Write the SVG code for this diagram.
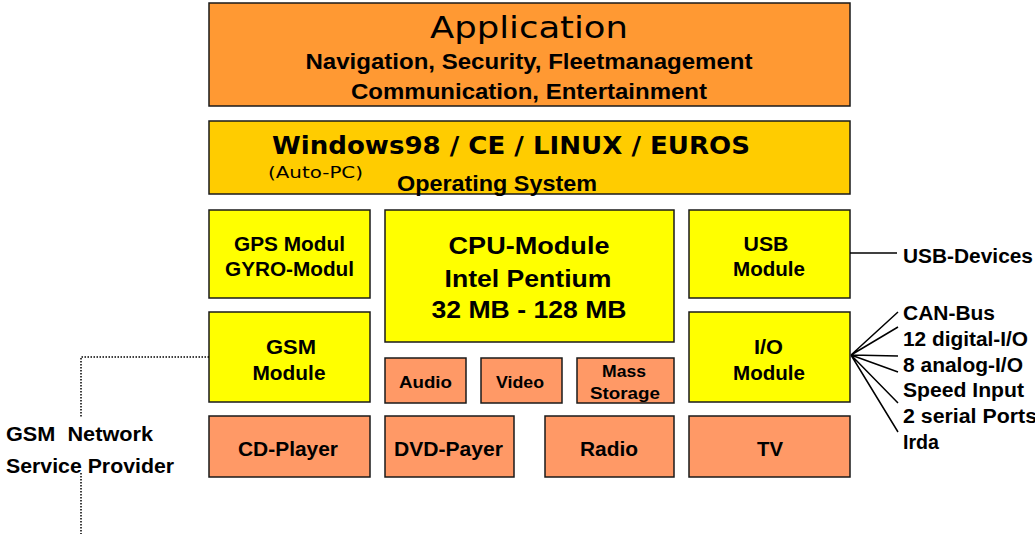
<svg xmlns="http://www.w3.org/2000/svg" width="1035" height="534" viewBox="0 0 1035 534">
<style>
.box{stroke:#1a1a1a;stroke-width:1.5}
.app{fill:#FF9933}
.os{fill:#FFCC00}
.yel{fill:#FFFF00}
.sal{fill:#FF9966}
text{font-family:"Liberation Sans",Arial,sans-serif;font-weight:bold;fill:#000}
.c{text-anchor:middle}
.v{font-family:"DejaVu Sans",Verdana,sans-serif}
.n{font-weight:normal}
.ln{stroke:#000;stroke-width:1.5;fill:none}
.dot{stroke:#000;stroke-width:1.5;fill:none;stroke-dasharray:1.5 1.5}
</style>
<rect width="1035" height="534" fill="#fff"/>
<g id="application">
<rect class="box app" x="209" y="3" width="641" height="103"/>
<text class="c v n" x="529" y="38" font-size="31" textLength="198" lengthAdjust="spacingAndGlyphs">Application</text>
<text class="c" x="529" y="69" font-size="22.5" textLength="447" lengthAdjust="spacingAndGlyphs">Navigation, Security, Fleetmanagement</text>
<text class="c" x="529" y="99" font-size="22.5" textLength="356" lengthAdjust="spacingAndGlyphs">Communication, Entertainment</text>
</g>
<g id="os">
<rect class="box os" x="209" y="121" width="641" height="73"/>
<text class="v" x="272" y="154" font-size="24.5" textLength="478" lengthAdjust="spacingAndGlyphs">Windows98 / CE / LINUX / EUROS</text>
<text class="v n" x="268" y="178" font-size="15.5" textLength="95" lengthAdjust="spacingAndGlyphs">(Auto-PC)</text>
<text x="397" y="191" font-size="21.5" textLength="200" lengthAdjust="spacingAndGlyphs">Operating System</text>
</g>
<g id="gps">
<rect class="box yel" x="209" y="210" width="161" height="88"/>
<text class="c" x="289.5" y="251" font-size="20" textLength="111" lengthAdjust="spacingAndGlyphs">GPS Modul</text>
<text class="c" x="289.5" y="276" font-size="20" textLength="129" lengthAdjust="spacingAndGlyphs">GYRO-Modul</text>
</g>
<g id="cpu">
<rect class="box yel" x="385" y="210" width="289" height="132"/>
<text class="c" x="529" y="254" font-size="24.5" textLength="161" lengthAdjust="spacingAndGlyphs">CPU-Module</text>
<text class="c" x="528" y="287" font-size="24.5" textLength="167" lengthAdjust="spacingAndGlyphs">Intel Pentium</text>
<text class="c" x="529" y="318" font-size="24.5" textLength="195" lengthAdjust="spacingAndGlyphs">32 MB - 128 MB</text>
</g>
<g id="usb">
<rect class="box yel" x="689" y="210" width="161" height="88"/>
<text class="c" x="766" y="251" font-size="20" textLength="45" lengthAdjust="spacingAndGlyphs">USB</text>
<text class="c" x="769" y="276" font-size="20" textLength="72" lengthAdjust="spacingAndGlyphs">Module</text>
</g>
<g id="gsm">
<rect class="box yel" x="209" y="312" width="161" height="90"/>
<text class="c" x="291" y="354" font-size="20" textLength="50" lengthAdjust="spacingAndGlyphs">GSM</text>
<text class="c" x="289" y="380" font-size="20" textLength="73" lengthAdjust="spacingAndGlyphs">Module</text>
</g>
<g id="io">
<rect class="box yel" x="689" y="312" width="161" height="90"/>
<text class="c" x="768.5" y="354" font-size="20" textLength="29" lengthAdjust="spacingAndGlyphs">I/O</text>
<text class="c" x="769" y="380" font-size="20" textLength="72" lengthAdjust="spacingAndGlyphs">Module</text>
</g>
<g id="audio">
<rect class="box sal" x="385" y="358" width="81" height="45"/>
<text class="c" x="425.5" y="388" font-size="17" textLength="53" lengthAdjust="spacingAndGlyphs">Audio</text>
</g>
<g id="video">
<rect class="box sal" x="481" y="358" width="81" height="45"/>
<text class="c" x="520" y="388" font-size="17" textLength="48" lengthAdjust="spacingAndGlyphs">Video</text>
</g>
<g id="mass">
<rect class="box sal" x="577" y="358" width="97" height="45"/>
<text class="c" x="624" y="377" font-size="17" textLength="44" lengthAdjust="spacingAndGlyphs">Mass</text>
<text class="c" x="625" y="399" font-size="17" textLength="70" lengthAdjust="spacingAndGlyphs">Storage</text>
</g>
<g id="cd">
<rect class="box sal" x="209" y="416" width="161" height="61"/>
<text class="c" x="288" y="456" font-size="20" textLength="100" lengthAdjust="spacingAndGlyphs">CD-Player</text>
</g>
<g id="dvd">
<rect class="box sal" x="385" y="416" width="129" height="61"/>
<text class="c" x="448.5" y="456" font-size="20" textLength="109" lengthAdjust="spacingAndGlyphs">DVD-Payer</text>
</g>
<g id="radio">
<rect class="box sal" x="545" y="416" width="129" height="61"/>
<text class="c" x="609" y="456" font-size="20" textLength="58" lengthAdjust="spacingAndGlyphs">Radio</text>
</g>
<g id="tv">
<rect class="box sal" x="689" y="416" width="161" height="61"/>
<text class="c" x="770" y="456" font-size="20" textLength="26" lengthAdjust="spacingAndGlyphs">TV</text>
</g>
<g id="connectors">
<line class="ln" x1="850" y1="253" x2="897" y2="253"/>
<path class="ln" d="M851 355 L898 312 M851 355 L898 327 M851 355 L898 356 M851 355 L898 372 M851 355 L898 403 M851 355 L898 432"/>
<path class="dot" d="M209 357 H81 V417 M81 473 V534"/>
</g>
<g id="usb-devices">
<text x="903" y="263" font-size="20" textLength="130" lengthAdjust="spacingAndGlyphs">USB-Devices</text>
</g>
<g id="io-labels">
<text x="903" y="320" font-size="20" textLength="92" lengthAdjust="spacingAndGlyphs">CAN-Bus</text>
<text x="903" y="346" font-size="20" textLength="125" lengthAdjust="spacingAndGlyphs">12 digital-I/O</text>
<text x="903" y="372" font-size="20" textLength="120" lengthAdjust="spacingAndGlyphs">8 analog-I/O</text>
<text x="903" y="397" font-size="20" textLength="121" lengthAdjust="spacingAndGlyphs">Speed Input</text>
<text x="903" y="423" font-size="20" textLength="134" lengthAdjust="spacingAndGlyphs">2 serial Ports</text>
<text x="903" y="449" font-size="20" textLength="36" lengthAdjust="spacingAndGlyphs">Irda</text>
</g>
<g id="gsm-provider">
<text x="6" y="441" font-size="20" textLength="147" lengthAdjust="spacingAndGlyphs" xml:space="preserve">GSM  Network</text>
<text x="6" y="473" font-size="20" textLength="168" lengthAdjust="spacingAndGlyphs">Service Provider</text>
</g>
</svg>
